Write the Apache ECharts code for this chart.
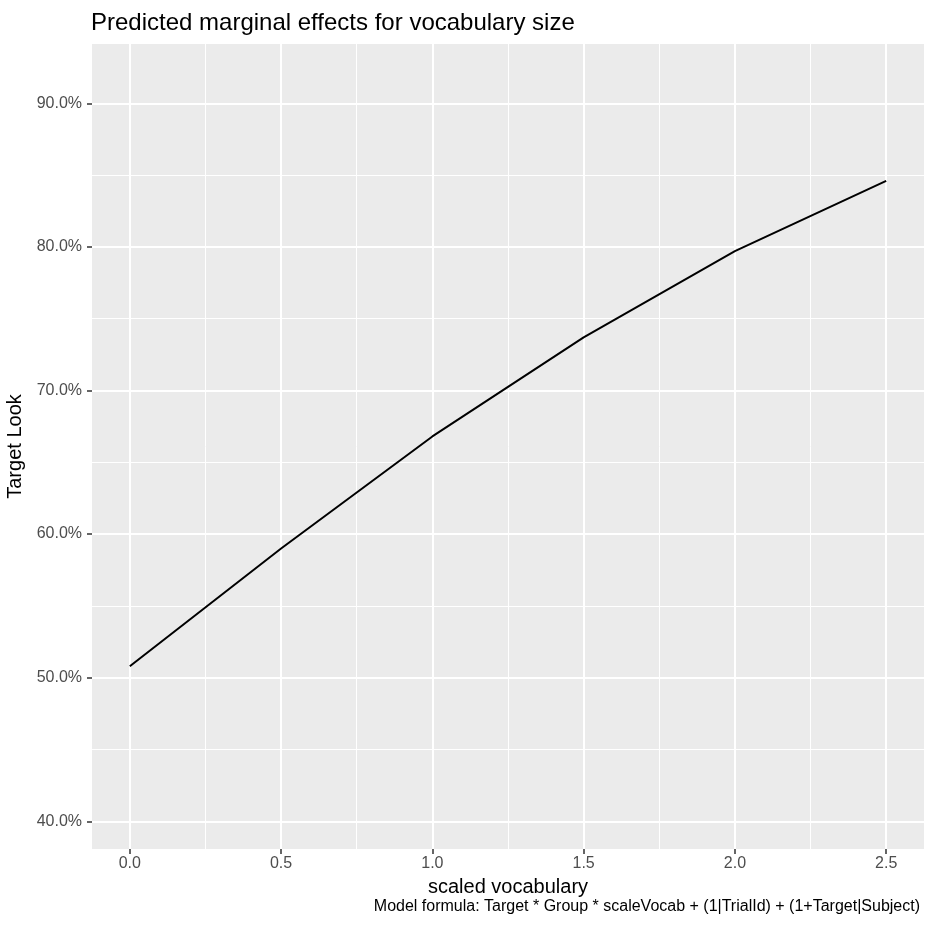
<!DOCTYPE html>
<html>
<head>
<meta charset="utf-8">
<script src="https://cdn.jsdelivr.net/npm/echarts@6/dist/echarts.min.js"></script>
<style>
  html, body { margin: 0; padding: 0; background: #ffffff; }
  #chart { width: 925px; height: 925px; }
</style>
</head>
<body>
<div id="chart"></div>
<script>
// Predicted probability of looking at the target across scaled vocabulary
const vocab = [0, 0.5, 1.0, 1.5, 2.0, 2.5];
const targetLook = [50.8, 59.0, 66.8, 73.7, 79.7, 84.6];   // percent

const xTicks = [0, 0.5, 1.0, 1.5, 2.0, 2.5];
const yTicks = [40, 50, 60, 70, 80, 90];

const FONT = '"Liberation Sans", Arial, Helvetica, sans-serif';
const chart = echarts.init(document.getElementById('chart'), null, { renderer: 'canvas' });

const major = { show: true, lineStyle: { color: '#ffffff', width: 2 } };
const minor = { show: true, lineStyle: { color: '#ffffff', width: 1 } };

chart.setOption({
  animation: false,
  backgroundColor: '#ffffff',
  title: {
    text: 'Predicted marginal effects for vocabulary size',
    left: 86,
    top: 6,
    textStyle: { fontFamily: FONT, fontSize: 24, fontWeight: 'normal', color: '#000000' }
  },
  grid: {
    show: true,
    left: 92, right: 1, top: 44, bottom: 76,
    containLabel: false,
    outerBoundsMode: 'none',
    backgroundColor: '#EBEBEB',
    borderWidth: 0
  },
  xAxis: {
    type: 'value',
    min: -0.125,
    max: 2.625,
    name: 'scaled vocabulary',
    nameLocation: 'middle',
    nameGap: 28,
    nameTextStyle: { fontFamily: FONT, fontSize: 20, color: '#000000' },
    axisLine: { show: false, onZero: false },
    axisTick: { show: true, length: 5, customValues: xTicks, lineStyle: { color: '#333333', width: 1.5 } },
    axisLabel: {
      customValues: xTicks,
      margin: 7,
      fontFamily: FONT, fontSize: 16, color: '#4D4D4D',
      formatter: v => v.toFixed(1)
    },
    splitLine: major,
    minorTick: { show: false, splitNumber: 2 },
    minorSplitLine: minor
  },
  yAxis: {
    type: 'value',
    min: 38.07,
    max: 94.13,
    name: 'Target Look',
    nameLocation: 'middle',
    nameRotate: 90,
    nameGap: 58,
    nameTextStyle: { fontFamily: FONT, fontSize: 20, color: '#000000' },
    axisLine: { show: false, onZero: false },
    axisTick: { show: true, length: 5, customValues: yTicks, lineStyle: { color: '#333333', width: 1.5 } },
    axisLabel: {
      customValues: yTicks,
      margin: 10,
      fontFamily: FONT, fontSize: 16, color: '#4D4D4D',
      formatter: v => v.toFixed(1) + '%'
    },
    splitLine: major,
    minorTick: { show: false, splitNumber: 2 },
    minorSplitLine: minor
  },
  graphic: [{
    type: 'text',
    right: 5,
    top: 899,
    style: {
      text: 'Model formula: Target * Group * scaleVocab + (1|TrialId) + (1+Target|Subject)',
      font: '16px ' + FONT,
      fill: '#000000'
    }
  }],
  series: [{
    type: 'line',
    data: vocab.map((v, i) => [v, targetLook[i]]),
    showSymbol: false,
    symbol: 'none',
    lineStyle: { color: '#000000', width: 2 },
    silent: true
  }]
});
</script>
</body>
</html>
